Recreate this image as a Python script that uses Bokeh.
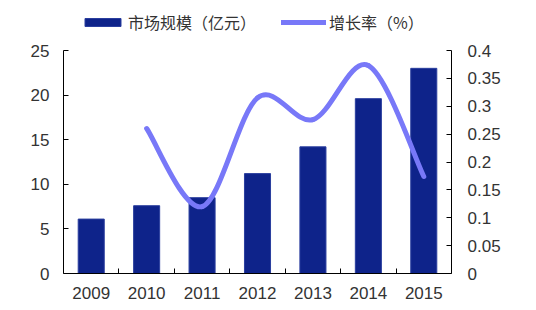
from bokeh.plotting import figure
from bokeh.models import (Range1d, LinearAxis, FixedTicker, Legend, LegendItem, ColumnDataSource)
from bokeh.embed import file_html
from bokeh.resources import INLINE

years = ["2009", "2010", "2011", "2012", "2013", "2014", "2015"]
market_size = [6.1, 7.6, 8.5, 11.2, 14.2, 19.6, 23.0]
growth_years = ["2010", "2011", "2012", "2013", "2014", "2015"]
growth_rate = [0.260, 0.120, 0.315, 0.276, 0.373, 0.174]
left_ticks = [0, 5, 10, 15, 20, 25]
right_ticks = [0, 0.05, 0.1, 0.15, 0.2, 0.25, 0.3, 0.35, 0.4]
bar_label = "市场规模（亿元）"
line_label = "增长率（%）"

BAR_COLOR = "#0E238A"
LINE_COLOR = "#7878F8"
TEXT_COLOR = "#333333"
NUM_FONT = "Liberation Sans"
CJK_FONT = "Noto Sans CJK SC"

# frame extends above the axes so the legend can sit inside it
TOP_PAD = 5
AXIS_TOP_PX = 50
AXIS_BOTTOM_PX = 273
scale = (AXIS_BOTTOM_PX - TOP_PAD) / (AXIS_BOTTOM_PX - AXIS_TOP_PX)
left_max = left_ticks[-1]
right_max = right_ticks[-1]

idx = {y: i for i, y in enumerate(years)}
xb = [idx[y] for y in years]
xg = [idx[y] for y in growth_years]

p = figure(width=536, height=310, output_backend="svg", toolbar_location=None,
           x_range=Range1d(-0.5, len(years) - 0.5), y_range=Range1d(0, left_max * scale),
           min_border_left=63, min_border_right=85, min_border_top=TOP_PAD, min_border_bottom=37)
p.extra_y_ranges = {"right": Range1d(0, right_max * scale)}
p.outline_line_color = None
p.xgrid.visible = False
p.ygrid.visible = False
p.background_fill_color = "white"
p.border_fill_color = "white"

bars = p.vbar(x=xb, top=market_size, width=0.47, fill_color=BAR_COLOR, line_color="#2A3E9E", line_width=1)

# smooth line through growth points (Catmull-Rom style bezier segments)
n = len(xg)
x0, y0, x1, y1, cx0, cy0, cx1, cy1 = [], [], [], [], [], [], [], []
for i in range(n - 1):
    xm, ym = (xg[i - 1], growth_rate[i - 1]) if i > 0 else (xg[i], growth_rate[i])
    xp2, yp2 = (xg[i + 2], growth_rate[i + 2]) if i + 2 < n else (xg[i + 1], growth_rate[i + 1])
    x0.append(xg[i]); y0.append(growth_rate[i])
    x1.append(xg[i + 1]); y1.append(growth_rate[i + 1])
    cx0.append(xg[i] + (xg[i + 1] - xm) / 6); cy0.append(growth_rate[i] + (growth_rate[i + 1] - ym) / 6)
    cx1.append(xg[i + 1] - (xp2 - xg[i]) / 6); cy1.append(growth_rate[i + 1] - (yp2 - growth_rate[i]) / 6)
src = ColumnDataSource(dict(x0=x0, y0=y0, x1=x1, y1=y1, cx0=cx0, cy0=cy0, cx1=cx1, cy1=cy1))
curve = p.bezier(x0="x0", y0="y0", x1="x1", y1="y1", cx0="cx0", cy0="cy0", cx1="cx1", cy1="cy1",
                 source=src, y_range_name="right", line_color=LINE_COLOR, line_width=5, line_cap="round")

# x axis
xa = p.xaxis[0]
xa.ticker = FixedTicker(ticks=xb, minor_ticks=[i + 0.5 for i in range(len(years) - 1)])
xa.major_label_overrides = {i: y for i, y in enumerate(years)}
xa.major_tick_in = 0
xa.major_tick_out = 0
xa.minor_tick_in = 5
xa.minor_tick_out = 0
xa.major_label_standoff = 13
xa.axis_line_color = "#000000"
xa.minor_tick_line_color = "#000000"

# left axis
ya = p.yaxis[0]
ya.ticker = FixedTicker(ticks=left_ticks)
ya.bounds = (0, left_max)
ya.major_tick_in = 5
ya.major_tick_out = 0
ya.minor_tick_line_color = None
ya.major_label_standoff = 14
ya.axis_line_color = "#000000"
ya.major_tick_line_color = "#000000"

# right axis
ra = LinearAxis(y_range_name="right", ticker=FixedTicker(ticks=right_ticks))
ra.bounds = (0, right_max)
ra.major_label_overrides = {t: ("%g" % t) for t in right_ticks}
ra.major_tick_in = 5
ra.major_tick_out = 0
ra.minor_tick_line_color = None
ra.major_label_standoff = 16
ra.axis_line_color = "#000000"
ra.major_tick_line_color = "#000000"
p.add_layout(ra, "right")

for ax in (xa, ya, ra):
    ax.major_label_text_font = NUM_FONT
    ax.major_label_text_font_size = "17px"
    ax.major_label_text_color = TEXT_COLOR

legend = Legend(items=[LegendItem(label=bar_label, renderers=[bars]),
                       LegendItem(label=line_label, renderers=[curve])],
                orientation="horizontal", location=(17, 239),
                glyph_width=45, glyph_height=10, label_standoff=3, spacing=25,
                padding=0, margin=0, border_line_color=None, background_fill_alpha=0,
                label_text_font=CJK_FONT, label_text_font_size="16px", label_text_color=TEXT_COLOR,
                label_height=16)
p.add_layout(legend, "center")

open("out.html", "w").write(file_html(p, INLINE))
